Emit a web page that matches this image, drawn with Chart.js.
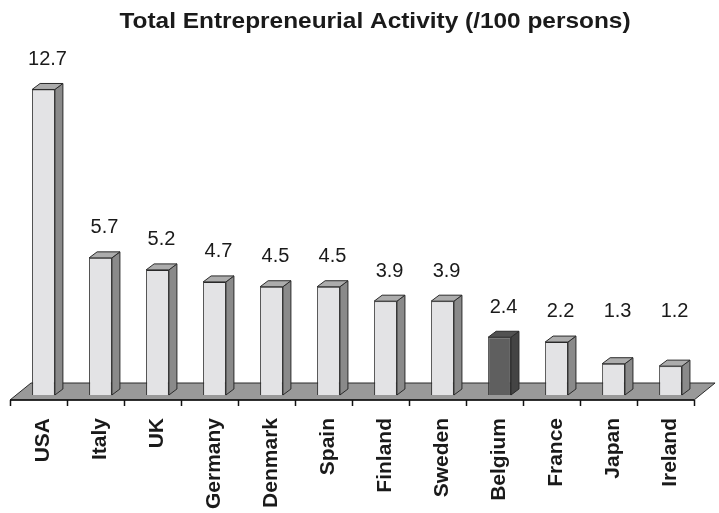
<!DOCTYPE html>
<html><head><meta charset="utf-8">
<script src="https://cdn.jsdelivr.net/npm/chart.js@4.4.0/dist/chart.umd.min.js"></script>
<style>html,body{margin:0;padding:0;background:#fff}#wrap{width:719px;height:513px}</style>
</head><body><div id="wrap"><canvas id="c" width="719" height="513"></canvas></div>
<script>
const titleText = 'Total Entrepreneurial Activity (/100 persons)';
const countries = ['USA','Italy','UK','Germany','Denmark','Spain','Finland','Sweden','Belgium','France','Japan','Ireland'];
const tea = [12.7, 5.7, 5.2, 4.7, 4.5, 4.5, 3.9, 3.9, 2.4, 2.2, 1.3, 1.2];
const highlighted = ['Belgium'];
const valueLabels = tea.map(v => v.toFixed(1));

const DX = 8, DY = 6;          // bar depth
const FDX = 21, FDY = 17;      // floor depth
const SHIFT = 5;               // bars sit mid-floor
const TEXT = '#1a1a1a';
const EDGE = '#2a2a2a';

const isHi = i => highlighted.includes(countries[i]);
const frontCol = countries.map((c, i) => isHi(i) ? '#5f5f5f' : '#e3e3e5');
const sideCol = countries.map((c, i) => isHi(i) ? '#444444' : '#8a8a8a');
const topCol = countries.map((c, i) => isHi(i) ? '#525252' : '#acacac');

function poly(ctx, pts, fill) {
  ctx.beginPath();
  ctx.moveTo(pts[0][0], pts[0][1]);
  for (let k = 1; k < pts.length; k++) ctx.lineTo(pts[k][0], pts[k][1]);
  ctx.closePath();
  ctx.fillStyle = fill;
  ctx.fill();
  ctx.lineWidth = 1;
  ctx.strokeStyle = EDGE;
  ctx.stroke();
}

const threeD = {
  id: 'threeD',
  beforeDatasetsDraw(chart) {
    const ctx = chart.ctx, a = chart.chartArea, xs = chart.scales.x;
    const y0 = a.bottom + SHIFT, l = a.left - SHIFT, r = a.right - SHIFT;
    ctx.save();
    poly(ctx, [[l, y0], [r, y0], [r + FDX, y0 - FDY], [l + FDX, y0 - FDY]], '#999999');
    ctx.beginPath();
    ctx.strokeStyle = '#111';
    ctx.lineWidth = 1.5;
    ctx.moveTo(l, y0); ctx.lineTo(r, y0);
    for (let i = 0; i <= countries.length; i++) {
      const x = Math.round(xs.getPixelForValue(i - 0.5) - SHIFT) + 0.5;
      ctx.moveTo(x, y0); ctx.lineTo(x, y0 + 6);
    }
    ctx.stroke();
    ctx.restore();
  },
  afterDatasetsDraw(chart) {
    const ctx = chart.ctx;
    const meta = chart.getDatasetMeta(0);
    ctx.save();
    meta.data.forEach((el, i) => {
      const p = el.getProps(['x', 'y', 'base', 'width'], true);
      const L = p.x - p.width / 2, R = p.x + p.width / 2, T = p.y, B = p.base;
      poly(ctx, [[R, T], [R + DX, T - DY], [R + DX, B - DY], [R, B]], sideCol[i]);
      poly(ctx, [[L, T], [L + DX, T - DY], [R + DX, T - DY], [R, T]], topCol[i]);
      ctx.fillStyle = TEXT;
      ctx.font = '20px "Liberation Sans", Arial, sans-serif';
      ctx.textAlign = 'center';
      ctx.textBaseline = 'middle';
      const ly = Math.min(T - 30, 311);
      ctx.fillText(valueLabels[i], p.x + DX / 2, ly);
    });
    ctx.restore();
  },
  afterDraw(chart) {
    const ctx = chart.ctx;
    ctx.save();
    ctx.fillStyle = TEXT;
    ctx.font = 'bold 22px "Liberation Sans", Arial, sans-serif';
    ctx.textAlign = 'center';
    ctx.textBaseline = 'middle';
    ctx.translate(375, 22);
    ctx.scale(1.11, 1);
    ctx.fillText(titleText, 0, 0);
    ctx.restore();
  }
};

new Chart(document.getElementById('c'), {
  type: 'bar',
  data: {
    labels: countries,
    datasets: [{
      data: tea,
      backgroundColor: frontCol,
      borderColor: EDGE,
      borderWidth: 1,
      barPercentage: 0.4,
      categoryPercentage: 1
    }]
  },
  options: {
    responsive: false,
    animation: false,
    devicePixelRatio: 1,
    layout: { padding: { left: 15, right: 6, top: 58.2, bottom: 0 } },
    plugins: { legend: { display: false }, tooltip: { enabled: false }, title: { display: false } },
    scales: {
      y: { display: false, min: 0, max: 14 },
      x: {
        afterFit(s) { s.height = 118; },
        grid: { display: false, drawTicks: false },
        border: { display: false },
        ticks: {
          autoSkip: false, minRotation: 90, maxRotation: 90, padding: 23,
          color: TEXT,
          font: { family: '"Liberation Sans", Arial, sans-serif', size: 21, weight: 'bold' }
        }
      }
    }
  },
  plugins: [threeD]
});
</script>
</body></html>
